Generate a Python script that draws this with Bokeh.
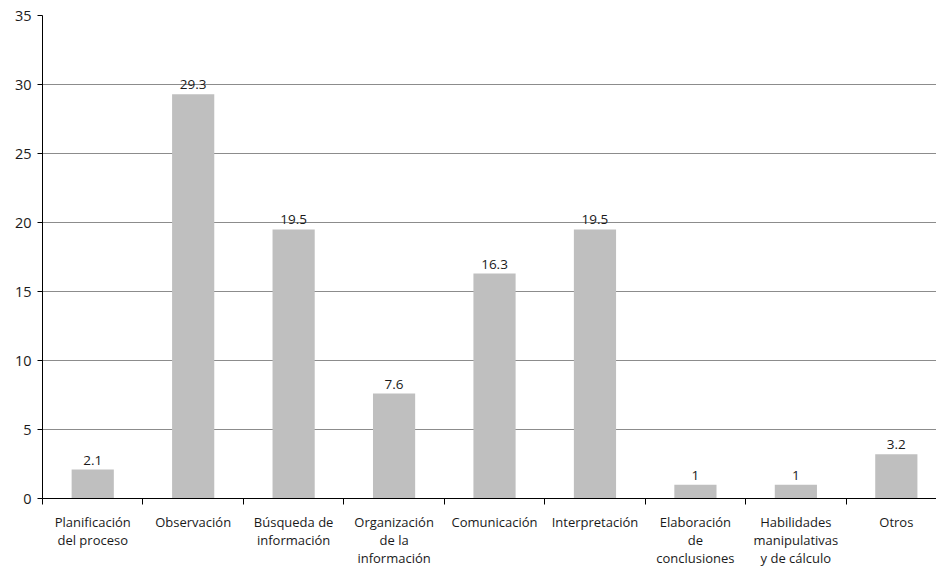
from bokeh.plotting import figure
from bokeh.models import Range1d, FixedTicker, ColumnDataSource, LabelSet
from bokeh.core.properties import value
from bokeh.embed import file_html
from bokeh.resources import INLINE

categories = ["Planificación\ndel proceso", "Observación", "Búsqueda de\ninformación",
              "Organización\nde la\ninformación", "Comunicación", "Interpretación",
              "Elaboración\nde\nconclusiones", "Habilidades\nmanipulativas\ny de cálculo", "Otros"]
values = [2.1, 29.3, 19.5, 7.6, 16.3, 19.5, 1, 1, 3.2]
value_labels = ["2.1", "29.3", "19.5", "7.6", "16.3", "19.5", "1", "1", "3.2"]
y_ticks = [0, 5, 10, 15, 20, 25, 30, 35]

FONT = "Open Sans"
TXT = "#1a1a1a"

xs = [i + 0.5 for i in range(len(categories))]
src = ColumnDataSource(dict(x=xs, top=values, lab=value_labels))

p = figure(width=936, height=569, output_backend="svg", toolbar_location=None,
           x_range=Range1d(0, 8.9), y_range=Range1d(0, 35))
p.min_border_left = 42
p.min_border_right = 0
p.min_border_top = 15
p.min_border_bottom = 70
p.outline_line_color = None
p.background_fill_color = "white"
p.border_fill_color = "white"

p.vbar(x="x", top="top", width=0.42, bottom=0, source=src, fill_color="#bfbfbf", line_color=None)

labels = LabelSet(x="x", y="top", text="lab", source=src, text_align="center", text_baseline="bottom",
                  y_offset=5, text_font=value(FONT), text_font_size="13.5px", text_color=TXT)
p.add_layout(labels)

# y axis
p.yaxis.ticker = FixedTicker(ticks=y_ticks)
p.yaxis.axis_line_color = "black"
p.yaxis.major_tick_line_color = "black"
p.yaxis.major_tick_out = 5
p.yaxis.major_tick_in = 0
p.yaxis.minor_tick_line_color = None
p.yaxis.major_label_text_font = FONT
p.yaxis.major_label_text_font_size = "14.5px"
p.yaxis.major_label_text_color = TXT
p.yaxis.major_label_standoff = 6

# x axis: labels at category centres, ticks at category boundaries
p.xaxis.ticker = FixedTicker(ticks=xs, minor_ticks=list(range(0, 10)))
p.xaxis.major_label_overrides = {x: c for x, c in zip(xs, categories)}
p.xaxis.axis_line_color = "black"
p.xaxis.major_tick_line_color = None
p.xaxis.major_tick_out = 0
p.xaxis.major_tick_in = 0
p.xaxis.minor_tick_line_color = "black"
p.xaxis.minor_tick_out = 6
p.xaxis.minor_tick_in = 0
p.xaxis.major_label_text_font = FONT
p.xaxis.major_label_text_font_size = "13px"
p.xaxis.major_label_text_color = TXT
p.xaxis.major_label_text_line_height = 1.0
p.xaxis.major_label_standoff = 8

p.xgrid.grid_line_color = None
p.ygrid.ticker = FixedTicker(ticks=y_ticks)
p.ygrid.grid_line_color = "#8c8c8c"
p.ygrid.grid_line_width = 1

open("out.html", "w").write(file_html(p, INLINE))
